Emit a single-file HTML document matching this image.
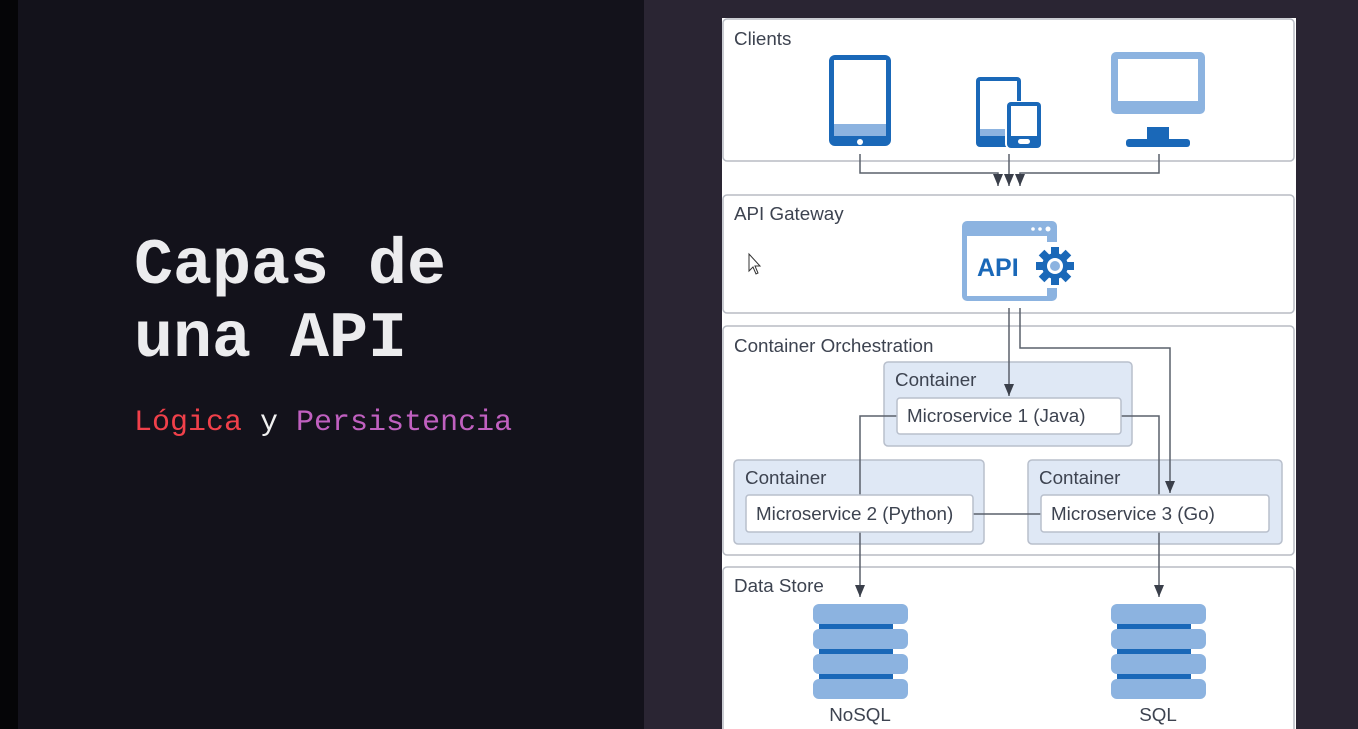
<!DOCTYPE html>
<html><head><meta charset="utf-8"><style>
body{margin:0;width:1358px;height:729px;overflow:hidden;background:#2a2533;font-family:"Liberation Sans",sans-serif}
.l{position:absolute;left:18px;top:0;width:626px;height:729px;background:#13121b}
.b{position:absolute;left:0;top:0;width:18px;height:729px;background:#050507}
.t{position:absolute;left:134px;font-family:"Liberation Mono",monospace;font-weight:bold;font-size:65px;color:#ececee;line-height:1}
.s{position:absolute;left:134px;top:406px;font-family:"Liberation Mono",monospace;font-size:30px;color:#f0f0f0}
svg{position:absolute;left:0;top:0}
</style></head><body>
<div class="b"></div><div class="l"></div>
<div class="t" style="top:234px">Capas de</div>
<div class="t" style="top:307px">una API</div>
<div class="s"><span style="color:#f0404a">Lógica</span> y <span style="color:#c060c0">Persistencia</span></div>
<svg width="1358" height="729" font-family="Liberation Sans, sans-serif">
<defs>
<marker id="d" viewBox="0 0 10 12" markerWidth="10" markerHeight="12" refX="5" refY="12" orient="0" markerUnits="userSpaceOnUse"><path d="M0,0 L10,0 L5,12Z" fill="#3a3f4a"/></marker></defs>
<rect x="722" y="18" width="574" height="711" fill="#fff"/>
<g fill="#fff" stroke="#b8bcc4" stroke-width="1.5">
<rect x="723" y="19" width="571" height="142" rx="4"/>
<rect x="723" y="195" width="571" height="118" rx="4"/>
<rect x="723" y="326" width="571" height="229" rx="4"/>
<rect x="723" y="567" width="571" height="170" rx="4"/>
</g>
<g fill="#3d4350" font-size="18.8">
<text x="734" y="45">Clients</text><text x="734" y="220">API Gateway</text>
<text x="734" y="352">Container Orchestration</text><text x="734" y="592">Data Store</text>
</g>
<!-- tablet -->
<rect x="829" y="55" width="62" height="91" rx="6" fill="#1a68b8"/>
<rect x="834" y="60" width="52" height="64" fill="#fff"/>
<rect x="834" y="124" width="52" height="12" fill="#8cb3e0"/>
<circle cx="860" cy="142" r="3" fill="#fff"/>
<!-- tablet+phone -->
<rect x="976" y="77" width="45" height="70" rx="4" fill="#1a68b8"/>
<rect x="980" y="81" width="37" height="55" fill="#fff"/>
<rect x="980" y="129" width="37" height="7" fill="#8cb3e0"/>
<rect x="1005" y="101" width="37" height="47" rx="4" fill="#fff"/>
<rect x="1007" y="102" width="34" height="46" rx="4" fill="#1a68b8"/>
<rect x="1011" y="106" width="26" height="30" fill="#fff"/>
<rect x="1018" y="139" width="12" height="5" rx="2.5" fill="#fff"/>
<!-- monitor -->
<rect x="1111" y="52" width="94" height="62" rx="5" fill="#8cb3e0"/>
<rect x="1118" y="59" width="80" height="42" fill="#fff"/>
<rect x="1147" y="127" width="22" height="13" fill="#1a68b8"/>
<rect x="1126" y="139" width="64" height="8" rx="3" fill="#1a68b8"/>
<!-- API -->
<rect x="962" y="221" width="95" height="80" rx="5" fill="#8cb3e0"/>
<rect x="967" y="236" width="80" height="60" fill="#fff"/>
<circle cx="1033" cy="229" r="1.8" fill="#fff"/><circle cx="1040" cy="229" r="1.8" fill="#fff"/><circle cx="1048" cy="229" r="2.5" fill="#fff"/>
<rect x="1030" y="242" width="30" height="46" fill="#fff"/>
<text x="977" y="276" font-size="25" font-weight="bold" fill="#1a68b8">API</text>
<g transform="translate(1055,266)" fill="#1a68b8">
<circle r="13"/>
<g><rect x="-4" y="-19" width="8" height="38"/><rect x="-19" y="-4" width="38" height="8"/><rect x="-4" y="-19" width="8" height="38" transform="rotate(45)"/><rect x="-4" y="-19" width="8" height="38" transform="rotate(-45)"/></g>
<circle r="8" fill="#fff"/><circle r="5" fill="#8cb3e0"/>
</g>
<!-- containers -->
<g fill="#dfe8f5" stroke="#b8bfcc" stroke-width="1.5">
<rect x="884" y="362" width="248" height="84" rx="4"/>
<rect x="734" y="460" width="250" height="84" rx="4"/>
<rect x="1028" y="460" width="254" height="84" rx="4"/>
</g>
<!-- connectors -->
<g fill="none" stroke="#5a606b" stroke-width="1.5">
<path d="M860 154 V173 H998 V186" marker-end="url(#d)"/>
<path d="M1009 154 V186" marker-end="url(#d)"/>
<path d="M1159 154 V173 H1020 V186" marker-end="url(#d)"/>
<path d="M1009 308 V396" marker-end="url(#d)"/>
<path d="M1020 308 V348 H1170 V493" marker-end="url(#d)"/>
<path d="M897 416 H860 V496"/>
<path d="M1120 416 H1159 V496"/>
<path d="M973 514 H1041"/>
<path d="M860 532 V597" marker-end="url(#d)"/>
<path d="M1159 532 V597" marker-end="url(#d)"/>
</g>
<g fill="#fff" stroke="#b8bfcc" stroke-width="1.5">
<rect x="897" y="398" width="224" height="36" rx="3"/>
<rect x="746" y="495" width="227" height="37" rx="3"/>
<rect x="1041" y="495" width="228" height="37" rx="3"/>
</g>
<g fill="#3d4350" font-size="18.8">
<text x="895" y="386">Container</text><text x="745" y="484">Container</text><text x="1039" y="484">Container</text>
<text x="907" y="422">Microservice 1 (Java)</text>
<text x="756" y="520">Microservice 2 (Python)</text>
<text x="1051" y="520">Microservice 3 (Go)</text>
<text x="860" y="721" text-anchor="middle">NoSQL</text>
<text x="1158" y="721" text-anchor="middle">SQL</text>
</g>
<!-- DBs -->
<g id="db">
<rect x="819" y="607" width="74" height="90" fill="#1a68b8"/>
<rect x="813" y="604" width="95" height="20" rx="6" fill="#8cb3e0"/>
<rect x="813" y="629" width="95" height="20" rx="6" fill="#8cb3e0"/>
<rect x="813" y="654" width="95" height="20" rx="6" fill="#8cb3e0"/>
<rect x="813" y="679" width="95" height="20" rx="6" fill="#8cb3e0"/>
</g>
<use href="#db" transform="translate(298,0)"/>
<!-- cursor -->
<path d="M749 254 L749 271 L753 267 L756 274 L758 273 L755 266 L760 266Z" fill="#fff" stroke="#333" stroke-width="1"/>
</svg>
</body></html>
